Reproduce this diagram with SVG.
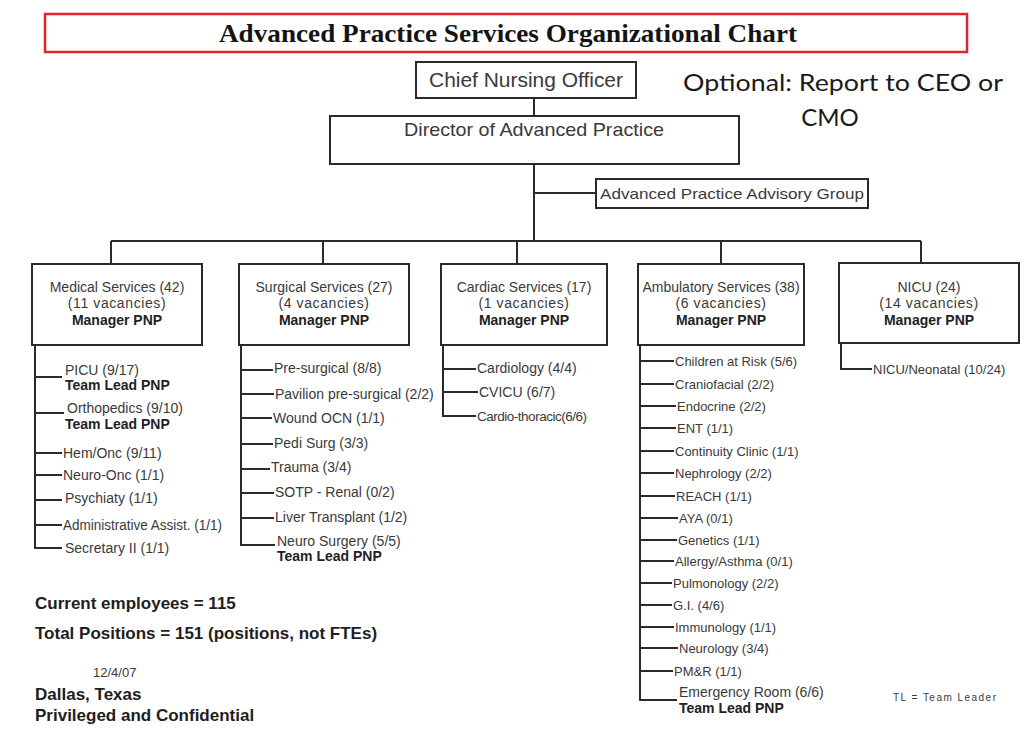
<svg xmlns="http://www.w3.org/2000/svg" width="1026" height="735" viewBox="0 0 1026 735">
  <style>
    .box { fill: #ffffff; stroke: #2a2a2a; stroke-width: 2; }
    .wire { fill: none; stroke: #2a2a2a; stroke-width: 2; }
    .t { font-family: "Liberation Sans", Arial, sans-serif; fill: #3a3a3a; }
    .lbl { font-size: 14px; text-anchor: middle; }
    .item { font-size: 14px; }
    .small { font-size: 13px; }
    .b { font-weight: bold; fill: #222222; }
    .foot { font-family: "Liberation Sans", Arial, sans-serif; font-weight: bold; font-size: 17px; fill: #1e1e1e; }
  </style>

  <rect width="1026" height="735" fill="#ffffff"/>

  <!-- title banner -->
  <g id="title">
    <rect x="45" y="14" width="922" height="38" fill="#ffffff" stroke="#e0262b" stroke-width="2.5"/>
    <text x="508" y="42" text-anchor="middle" textLength="578" lengthAdjust="spacingAndGlyphs" font-family="'Liberation Serif', 'Times New Roman', serif" font-weight="bold" font-size="26" fill="#141414">Advanced Practice Services Organizational Chart</text>
  </g>

  <!-- connectors -->
  <g id="connectors" class="wire">
    <line x1="534" y1="98" x2="534" y2="116"/>
    <line x1="534" y1="164" x2="534" y2="241"/>
    <line x1="534" y1="193" x2="596" y2="193"/>
    <line x1="111" y1="241" x2="921" y2="241"/>
    <line x1="111" y1="241" x2="111" y2="264"/>
    <line x1="323" y1="241" x2="323" y2="264"/>
    <line x1="517" y1="241" x2="517" y2="264"/>
    <line x1="721" y1="241" x2="721" y2="264"/>
    <line x1="921" y1="241" x2="921" y2="263"/>

    <!-- medical services list -->
    <path d="M35 345 V548 H62 M35 377 H62 M35 413 H64 M35 453 H62 M35 475 H62 M35 500 H62 M35 525 H62"/>
    <!-- surgical services list -->
    <path d="M241 345 V545 H275 M241 370 H273 M241 394 H274 M241 418 H272 M241 444 H273 M241 469 H270 M241 493 H274 M241 518 H274"/>
    <!-- cardiac services list -->
    <path d="M443 345 V416 H476 M443 369 H476 M443 392 H478"/>
    <!-- ambulatory services list -->
    <path d="M640 345 V700 H677 M640 361 H674 M640 384 H674 M640 406 H676 M640 428 H676 M640 451 H674 M640 473 H674 M640 496 H675 M640 518 H678 M640 540 H677 M640 561 H674 M640 583 H672 M640 605 H672 M640 627 H674 M640 648 H678 M640 671 H673"/>
    <!-- nicu list -->
    <path d="M841 343 V369 H872"/>
  </g>

  <g id="chief-nursing-officer">
    <rect class="box" x="416" y="62" width="220" height="36"/>
    <text class="t" x="526" y="87" text-anchor="middle" font-size="19.5" textLength="194" lengthAdjust="spacingAndGlyphs">Chief Nursing Officer</text>
  </g>

  <text x="683" y="91" font-family="Lato, 'Open Sans', sans-serif" font-size="24" fill="#1a1a1a" textLength="320" lengthAdjust="spacingAndGlyphs">Optional: Report to CEO or</text>
  <text x="830" y="126" text-anchor="middle" font-family="Lato, 'Open Sans', sans-serif" font-size="24" fill="#1a1a1a">CMO</text>

  <g id="director">
    <rect class="box" x="330" y="116" width="409" height="48"/>
    <text class="t" x="534" y="136" text-anchor="middle" font-size="19" textLength="260" lengthAdjust="spacingAndGlyphs">Director of Advanced Practice</text>
  </g>

  <g id="advisory-group">
    <rect class="box" x="596" y="179" width="272" height="29"/>
    <text class="t" x="732" y="199" text-anchor="middle" font-size="15" textLength="264" lengthAdjust="spacingAndGlyphs">Advanced Practice Advisory Group</text>
  </g>

  <g id="medical-services">
    <rect class="box" x="32" y="264" width="170" height="81"/>
    <text class="t lbl" x="117" y="292">Medical Services (42)</text>
    <text class="t lbl" x="117" y="308" letter-spacing="0.6">(11 vacancies)</text>
    <text class="t lbl b" x="117" y="325">Manager PNP</text>
  </g>
  <g id="medical-units" class="t item">
    <text x="65" y="375">PICU (9/17)</text>
    <text class="b" x="65" y="390">Team Lead PNP</text>
    <text x="67" y="413">Orthopedics (9/10)</text>
    <text class="b" x="65" y="429">Team Lead PNP</text>
    <text x="63" y="458">Hem/Onc (9/11)</text>
    <text x="63" y="480">Neuro-Onc (1/1)</text>
    <text x="65" y="503">Psychiaty (1/1)</text>
    <text x="63" y="530" textLength="159" lengthAdjust="spacingAndGlyphs">Administrative Assist.  (1/1)</text>
    <text x="65" y="553">Secretary II (1/1)</text>
  </g>

  <g id="surgical-services">
    <rect class="box" x="239" y="264" width="170" height="81"/>
    <text class="t lbl" x="324" y="292">Surgical Services (27)</text>
    <text class="t lbl" x="324" y="308" letter-spacing="0.6">(4 vacancies)</text>
    <text class="t lbl b" x="324" y="325">Manager PNP</text>
  </g>
  <g id="surgical-units" class="t item">
    <text x="274" y="373">Pre-surgical (8/8)</text>
    <text x="275" y="399">Pavilion pre-surgical (2/2)</text>
    <text x="273" y="423">Wound OCN (1/1)</text>
    <text x="274" y="448">Pedi Surg (3/3)</text>
    <text x="271" y="472">Trauma (3/4)</text>
    <text x="275" y="497">SOTP - Renal (0/2)</text>
    <text x="275" y="522">Liver Transplant (1/2)</text>
    <text x="277" y="546">Neuro Surgery (5/5)</text>
    <text class="b" x="277" y="561">Team Lead PNP</text>
  </g>

  <g id="cardiac-services">
    <rect class="box" x="441" y="264" width="166" height="81"/>
    <text class="t lbl" x="524" y="292">Cardiac Services (17)</text>
    <text class="t lbl" x="524" y="308" letter-spacing="0.6">(1 vacancies)</text>
    <text class="t lbl b" x="524" y="325">Manager PNP</text>
  </g>
  <g id="cardiac-units" class="t item">
    <text x="477" y="373">Cardiology (4/4)</text>
    <text x="479" y="397">CVICU (6/7)</text>
    <text x="477" y="421" font-size="13.5" textLength="110" lengthAdjust="spacing">Cardio-thoracic(6/6)</text>
  </g>

  <g id="ambulatory-services">
    <rect class="box" x="638" y="264" width="166" height="81"/>
    <text class="t lbl" x="721" y="292">Ambulatory Services (38)</text>
    <text class="t lbl" x="721" y="308" letter-spacing="0.6">(6 vacancies)</text>
    <text class="t lbl b" x="721" y="325">Manager PNP</text>
  </g>
  <g id="ambulatory-units" class="t small">
    <text x="675" y="366">Children at Risk (5/6)</text>
    <text x="675" y="389">Craniofacial (2/2)</text>
    <text x="677" y="411">Endocrine (2/2)</text>
    <text x="677" y="433">ENT (1/1)</text>
    <text x="675" y="456">Continuity Clinic (1/1)</text>
    <text x="675" y="478">Nephrology (2/2)</text>
    <text x="676" y="501">REACH (1/1)</text>
    <text x="679" y="523">AYA (0/1)</text>
    <text x="678" y="545">Genetics (1/1)</text>
    <text x="675" y="566">Allergy/Asthma (0/1)</text>
    <text x="673" y="588">Pulmonology (2/2)</text>
    <text x="673" y="610">G.I. (4/6)</text>
    <text x="675" y="632">Immunology (1/1)</text>
    <text x="679" y="653">Neurology (3/4)</text>
    <text x="674" y="676">PM&amp;R (1/1)</text>
    <text class="item" x="679" y="697">Emergency Room (6/6)</text>
    <text class="item b" x="679" y="713">Team Lead PNP</text>
  </g>

  <g id="nicu">
    <rect class="box" x="839" y="263" width="180" height="80"/>
    <text class="t lbl" x="929" y="292">NICU (24)</text>
    <text class="t lbl" x="929" y="308" letter-spacing="0.6">(14 vacancies)</text>
    <text class="t lbl b" x="929" y="325">Manager PNP</text>
  </g>
  <g id="nicu-units" class="t small">
    <text x="873" y="374">NICU/Neonatal (10/24)</text>
  </g>

  <!-- staffing totals and footer -->
  <g id="footer">
    <text class="foot" x="35" y="609">Current employees = 115</text>
    <text class="foot" x="35" y="639">Total Positions = 151 (positions, not FTEs)</text>
    <text x="93" y="677" font-family="'Liberation Sans', Arial, sans-serif" font-size="13" fill="#3a3a3a">12/4/07</text>
    <text class="foot" x="35" y="700">Dallas, Texas</text>
    <text class="foot" x="35" y="721">Privileged and Confidential</text>
    <text x="893" y="701" font-family="'Liberation Sans', Arial, sans-serif" font-size="10" fill="#3a3a3a" textLength="103" lengthAdjust="spacing">TL = Team Leader</text>
  </g>
</svg>
